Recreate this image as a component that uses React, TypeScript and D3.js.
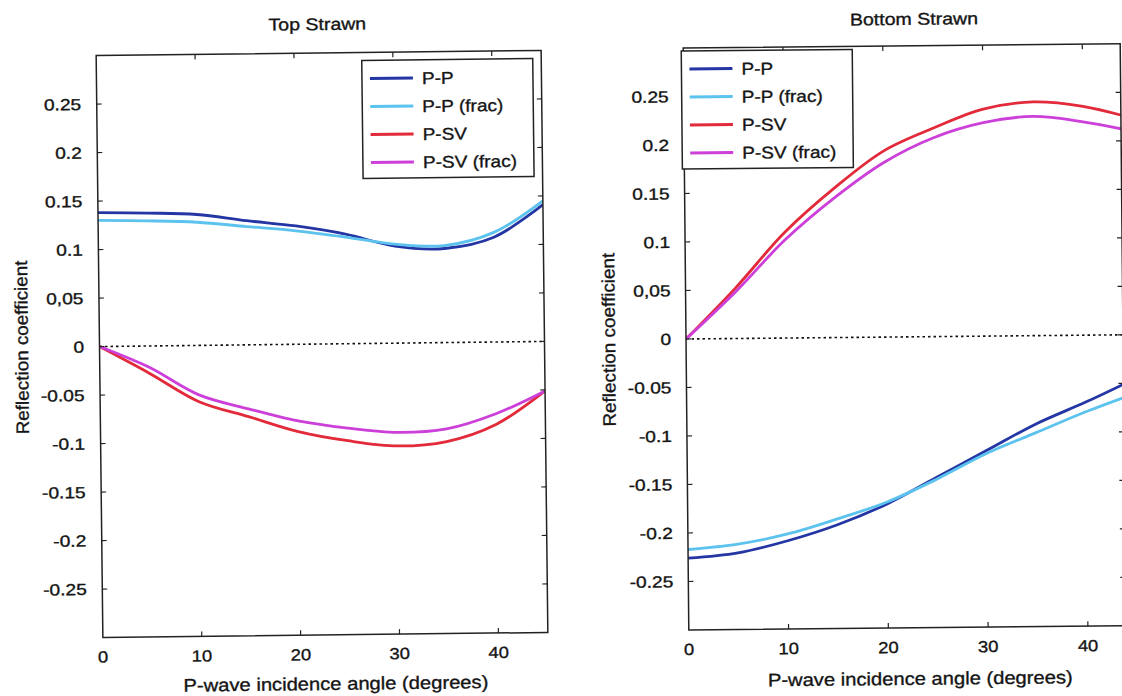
import React from "react";
import * as d3 from "d3";

// ---------- data ----------
const topAngles = [0, 5, 10, 15, 20, 25, 30, 35, 40, 45];
const topPP = [0.138, 0.137, 0.135, 0.128, 0.122, 0.113, 0.1, 0.097, 0.108, 0.141];
const topPPfrac = [0.13, 0.129, 0.127, 0.122, 0.117, 0.11, 0.102, 0.1, 0.113, 0.145];
const topPSV = [0, -0.028, -0.058, -0.074, -0.09, -0.1, -0.106, -0.102, -0.085, -0.051];
const topPSVfrac = [0, -0.022, -0.051, -0.066, -0.079, -0.087, -0.092, -0.089, -0.074, -0.051];

const botAngles = [0, 5, 10, 15, 20, 25, 30, 35, 40, 44];
const botPP = [-0.226, -0.221, -0.209, -0.193, -0.172, -0.145, -0.118, -0.091, -0.069, -0.05];
const botPPfrac = [-0.217, -0.212, -0.202, -0.187, -0.17, -0.147, -0.121, -0.1, -0.079, -0.064];
const botPSV = [0, 0.052, 0.109, 0.154, 0.192, 0.215, 0.234, 0.241, 0.236, 0.226];
const botPSVfrac = [0, 0.048, 0.101, 0.144, 0.18, 0.205, 0.22, 0.226, 0.22, 0.212];

const seriesNames = ["P-P", "P-P (frac)", "P-SV", "P-SV (frac)"];
const seriesColors = ["#2436a4", "#5cc2ee", "#e22a3a", "#cc3fd8"];

const yTickValues = [0.25, 0.2, 0.15, 0.1, 0.05, 0, -0.05, -0.1, -0.15, -0.2, -0.25];
const yTickLabels = ["0.25", "0.2", "0.15", "0.1", "0,05", "0", "-0.05", "-0.1", "-0.15", "-0.2", "-0.25"];
const xTickValues = [0, 10, 20, 30, 40];

const FONT = "'Liberation Sans', Arial, sans-serif";

type STextProps = {
  x: number;
  y: number;
  size: number;
  sx: number;
  anchor?: "start" | "middle" | "end";
  rotate?: number;
  dy?: string;
  children: React.ReactNode;
};

function SText({ x, y, size, sx, anchor = "start", rotate = 0, dy, children }: STextProps) {
  return (
    <text
      transform={`translate(${x},${y}) rotate(${rotate}) scale(${sx},1)`}
      fontSize={size}
      textAnchor={anchor}
      fontFamily={FONT}
      fill="#151515"
      stroke="#151515"
      strokeWidth={0.35}
      dy={dy}
    >
      {children}
    </text>
  );
}

type PanelProps = {
  id: string;
  title: string;
  angles: number[];
  series: number[][];
  xDomain: [number, number];
  left: number;
  right: number;
  top: number;
  bottom: number;
  tilt: number;
  pivotX: number;
  pivotY: number;
  titleX: number;
  titleY: number;
  legendX: number;
  legendY: number;
  yLabelX: number;
  tickLabelX: number;
  xLabelX: number;
  xLabelY: number;
};

function Panel(p: PanelProps) {
  const x = d3.scaleLinear().domain(p.xDomain).range([p.left, p.right]);
  const y = d3.scaleLinear().domain([-0.3, 0.3]).range([p.bottom, p.top]);
  const line = d3
    .line<[number, number]>()
    .x((d) => x(d[0]))
    .y((d) => y(d[1]))
    .curve(d3.curveCatmullRom.alpha(0.5));
  const tick = 5;
  const legendW = 171;
  const legendH = 118;
  const midY = (p.top + p.bottom) / 2;
  return (
    <g transform={`rotate(${p.tilt},${p.pivotX},${p.pivotY})`}>
      <defs>
        <clipPath id={"clip-" + p.id}>
          <rect x={p.left} y={p.top} width={p.right - p.left} height={p.bottom - p.top} />
        </clipPath>
      </defs>
      <SText x={p.titleX} y={p.titleY} size={17} sx={1.15} anchor="middle">
        {p.title}
      </SText>
      {/* zero line */}
      <line
        x1={x(p.xDomain[0])}
        x2={x(p.xDomain[1])}
        y1={y(0)}
        y2={y(0)}
        stroke="#111"
        strokeWidth={1.6}
        strokeDasharray="2.5,3"
      />
      {/* curves */}
      <g clipPath={`url(#clip-${p.id})`}>
        {p.series.map((vals, i) => (
          <path
            key={i}
            d={line(p.angles.map((a, j) => [a, vals[j]] as [number, number])) || ""}
            fill="none"
            stroke={seriesColors[i]}
            strokeWidth={2.8}
          />
        ))}
      </g>
      {/* frame */}
      <rect
        x={p.left}
        y={p.top}
        width={p.right - p.left}
        height={p.bottom - p.top}
        fill="none"
        stroke="#222"
        strokeWidth={1.5}
      />
      {/* ticks */}
      {yTickValues.map((v, i) => (
        <g key={"yt" + i}>
          <line x1={p.left} x2={p.left + tick} y1={y(v)} y2={y(v)} stroke="#222" strokeWidth={1.2} />
          <line x1={p.right} x2={p.right - tick} y1={y(v)} y2={y(v)} stroke="#222" strokeWidth={1.2} />
          <SText x={p.tickLabelX} y={y(v)} dy="0.36em" size={16} sx={1.2} anchor="end">
            {yTickLabels[i]}
          </SText>
        </g>
      ))}
      {xTickValues.map((v) => (
        <g key={"xt" + v}>
          {v > 0 && <line x1={x(v)} x2={x(v)} y1={p.bottom} y2={p.bottom - tick} stroke="#222" strokeWidth={1.2} />}
          {v > 0 && <line x1={x(v)} x2={x(v)} y1={p.top} y2={p.top + tick} stroke="#222" strokeWidth={1.2} />}
          <SText x={x(v)} y={p.bottom + 25} size={16} sx={1.15} anchor="middle">
            {v}
          </SText>
        </g>
      ))}
      <SText x={p.xLabelX} y={p.xLabelY} size={18} sx={1.12} anchor="middle">
        P-wave incidence angle (degrees)
      </SText>
      <SText x={p.yLabelX} y={midY} size={18} sx={1.05} anchor="middle" rotate={-90}>
        Reflection coefficient
      </SText>
      {/* legend */}
      <g transform={`translate(${p.legendX},${p.legendY})`}>
        <rect x={0} y={0} width={legendW} height={legendH} fill="#fff" stroke="#222" strokeWidth={1.5} />
        {seriesNames.map((n, i) => (
          <g key={n} transform={`translate(0,${18 + i * 28})`}>
            <line x1={8} x2={51} y1={0} y2={0} stroke={seriesColors[i]} strokeWidth={3} />
            <SText x={60} y={0} dy="0.36em" size={17} sx={1.12}>
              {n}
            </SText>
          </g>
        ))}
      </g>
    </g>
  );
}

export default function App() {
  return (
    <svg width={1122} height={696} style={{ position: "absolute", left: 0, top: 0, background: "#fff" }}>
      <rect x={0} y={0} width={1122} height={696} fill="#fff" />
      <Panel
        id="top"
        title="Top Strawn"
        angles={topAngles}
        series={[topPP, topPPfrac, topPSV, topPSVfrac]}
        xDomain={[0, 45]}
        left={99.5}
        right={544.5}
        top={53}
        bottom={635}
        tilt={-0.66}
        pivotX={322}
        pivotY={344}
        titleX={321}
        titleY={30}
        legendX={365}
        legendY={61}
        yLabelX={28}
        tickLabelX={84}
        xLabelX={332}
        xLabelY={690}
      />
      <Panel
        id="bot"
        title="Bottom Strawn"
        angles={botAngles}
        series={[botPP, botPPfrac, botPSV, botPSVfrac]}
        xDomain={[0, 43.8]}
        left={686}
        right={1123}
        top={48}
        bottom={630}
        tilt={-0.55}
        pivotX={686}
        pivotY={338}
        titleX={917}
        titleY={27}
        legendX={684}
        legendY={51}
        yLabelX={615}
        tickLabelX={671}
        xLabelX={917}
        xLabelY={687}
      />
    </svg>
  );
}
